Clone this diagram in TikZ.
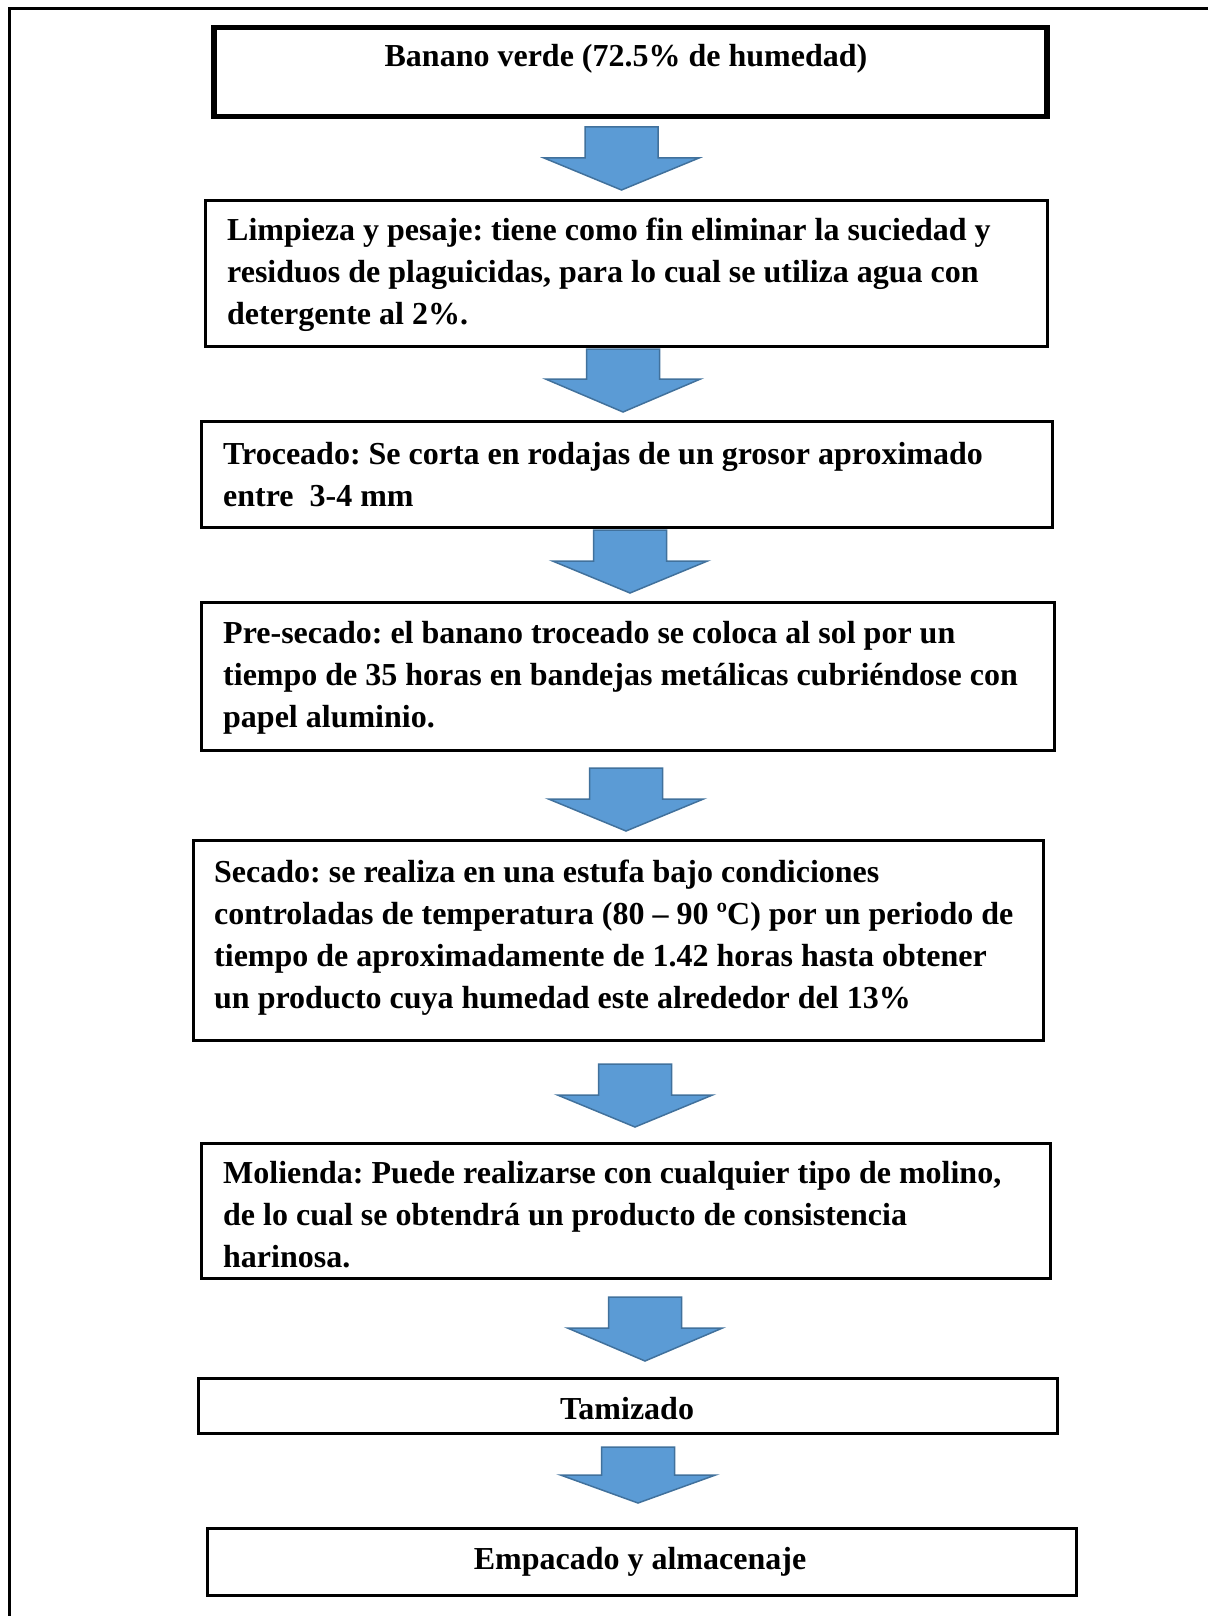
\documentclass[tikz,border=0pt]{standalone}
\usepackage{fontspec}
\setmainfont{Liberation Serif}
\frenchspacing
\definecolor{arrfill}{HTML}{5B9BD5}
\definecolor{arrline}{HTML}{41719C}
\tikzset{
  box/.style={draw=black, line width=3pt, fill=white, rectangle, inner sep=0pt, anchor=north west},
  thickbox/.style={box, line width=5.5pt},
  txt/.style={inner sep=0pt, align=left, anchor=base west, font=\fontsize{32}{42}\selectfont\bfseries},
  ctxt/.style={inner sep=0pt, anchor=base, font=\fontsize{32}{42}\selectfont\bfseries},
  arrowbody/.style={fill=arrfill, draw=arrline, line width=1.5pt, line join=miter},
}
\newcommand{\barrow}[4]{% cx, top, head y, tip y
  \filldraw[arrowbody] (#1-36.5,#2) -- (#1+36.5,#2) -- (#1+36.5,#3) -- (#1+77.5,#3) -- (#1,#4) -- (#1-77.5,#3) -- (#1-36.5,#3) -- cycle;}
\begin{document}
\begin{tikzpicture}[x=1pt,y=-1pt]
\useasboundingbox (0,0) rectangle (1208,1616);
% outer frame (open right and bottom)
\draw[line width=3pt] (9,1616) -- (9,9) -- (1208,9);

% anchors: base west = baseline of the LAST line
\node[thickbox, minimum width=833pt, minimum height=89pt] (b1) at (211,25) {};
\node[ctxt] (t1) at (626,67) {Banano verde (72.5\% de humedad)};

\node[box, minimum width=842pt, minimum height=146pt] (b2) at (204,199) {};
\node[txt] (t2) at (227,324) {Limpieza y pesaje: tiene como fin eliminar la suciedad y\\residuos de plaguicidas, para lo cual se utiliza agua con\\detergente al 2\%.};

\node[box, minimum width=851pt, minimum height=106pt] (b3) at (200,420) {};
\node[txt] (t3) at (223,506) {Troceado: Se corta en rodajas de un grosor aproximado\\entre~ 3-4 mm};

\node[box, minimum width=853pt, minimum height=148pt] (b4) at (200,601) {};
\node[txt] (t4) at (223,727) {Pre-secado: el banano troceado se coloca al sol por un\\tiempo de 35 horas en bandejas metálicas cubriéndose con\\papel aluminio.};

\node[box, minimum width=850pt, minimum height=200pt] (b5) at (192,839) {};
\node[txt] (t5) at (214,1008) {Secado: se realiza en una estufa bajo condiciones\\controladas de temperatura (80 – 90 ºC) por un periodo de\\tiempo de aproximadamente de 1.42 horas hasta obtener\\un producto cuya humedad este alrededor del 13\%};

\node[box, minimum width=849pt, minimum height=135pt] (b6) at (200,1142) {};
\begin{scope}
\clip (0,0) rectangle (1208,1269);
\node[txt] (t6) at (223,1267) {Molienda: Puede realizarse con cualquier tipo de molino,\\de lo cual se obtendrá un producto de consistencia\\harinosa.};
\end{scope}

\node[box, minimum width=859pt, minimum height=55pt] (b7) at (197,1377) {};
\node[ctxt] (t7) at (627,1419) {Tamizado};

\node[box, minimum width=869pt, minimum height=67pt] (b8) at (206,1527) {};
\node[ctxt] (t8) at (640,1569) {Empacado y almacenaje};

\barrow{621.5}{127}{158}{190}
\barrow{623}{349}{379}{412}
\barrow{630}{530}{561}{593}
\barrow{626}{768}{799}{831}
\barrow{635}{1064}{1095}{1127}
\barrow{645}{1297}{1328}{1361}
\barrow{638}{1447}{1475}{1503}
\end{tikzpicture}
\end{document}
